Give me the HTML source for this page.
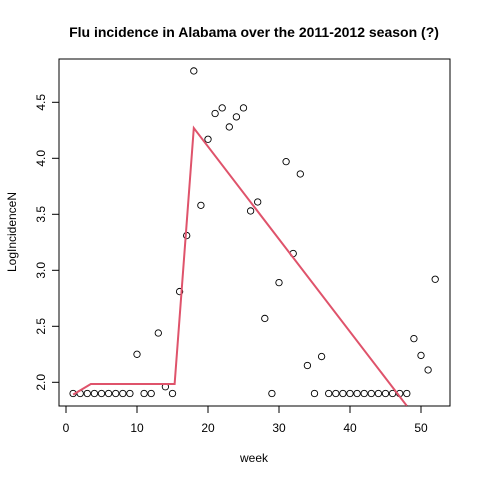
<!DOCTYPE html>
<html><head><meta charset="utf-8"><style>
body{margin:0;background:#fff}
text{font-family:"Liberation Sans",Arial,sans-serif}
</style></head><body>
<svg id="chart" width="480" height="480" viewBox="0 0 480 480" xmlns="http://www.w3.org/2000/svg">
<defs><clipPath id="clip"><rect x="59" y="59" width="391" height="347"/></clipPath></defs>
<text x="254" y="37" text-anchor="middle" font-size="14" font-weight="bold">Flu incidence in Alabama over the 2011-2012 season (?)</text>
<rect x="59" y="59" width="391" height="347" fill="none" stroke="#000" stroke-width="1"/>
<text x="254" y="462" text-anchor="middle" font-size="12">week</text>
<text transform="translate(16,232) rotate(-90)" text-anchor="middle" font-size="12">LogIncidenceN</text>
<g id="axes"></g>
<g id="marks" clip-path="url(#clip)"></g>
</svg>
<script>
const xTicks=[0,10,20,30,40,50];
const yTicks=[2.0,2.5,3.0,3.5,4.0,4.5];
const weeks=[1,2,3,4,5,6,7,8,9,10,11,12,13,14,15,16,17,18,19,20,21,22,23,24,25,26,27,28,29,30,31,32,33,34,35,36,37,38,39,40,41,42,43,44,45,46,47,48,49,50,51,52];
const logIncidence=[1.9,1.9,1.9,1.9,1.9,1.9,1.9,1.9,1.9,2.25,1.9,1.9,2.44,1.96,1.9,2.81,3.31,4.78,3.58,4.17,4.40,4.45,4.28,4.37,4.45,3.53,3.61,2.57,1.9,2.89,3.97,3.15,3.86,2.15,1.9,2.23,1.9,1.9,1.9,1.9,1.9,1.9,1.9,1.9,1.9,1.9,1.9,1.9,2.39,2.24,2.11,2.92];
const fitWeeks=[1,3.5,15.3,18,48];
const fitValues=[1.89,1.985,1.985,4.27,1.79];
const NS='http://www.w3.org/2000/svg';
function sx(v){return 66+(v-0)*7.1;}
function sy(v){return 382.3-(v-2)*112;}
const axes=document.getElementById('axes'),marks=document.getElementById('marks');
function mk(tag,attrs,parent){const e=document.createElementNS(NS,tag);for(const k in attrs)e.setAttribute(k,attrs[k]);parent.appendChild(e);return e;}
mk('line',{x1:sx(xTicks[0]),x2:sx(xTicks[xTicks.length-1]),y1:406,y2:406,stroke:'#000'},axes);
xTicks.forEach(t=>{
 const l=mk('line',{x1:sx(t),x2:sx(t),y1:406,y2:413,stroke:'#000'},axes);
 
 
 const tx=mk('text',{x:sx(t),y:432,'text-anchor':'middle','font-size':12},axes);
 tx.textContent=t;
 
 
});
yTicks.forEach(t=>{
 const l=mk('line',{x1:52,x2:59,y1:sy(t),y2:sy(t),stroke:'#000'},axes);
 
 
 const tx=mk('text',{transform:`translate(45,${sy(t)}) rotate(-90)`,'text-anchor':'middle','font-size':12},axes);
 tx.textContent=t.toFixed(1);
 
 
});
mk('line',{x1:59,x2:59,y1:sy(yTicks[0]),y2:sy(yTicks[yTicks.length-1]),stroke:'#000'},axes);
weeks.forEach((w,i)=>{
 const c=mk('circle',{cx:sx(w),cy:sy(logIncidence[i]),r:3.2,fill:'none',stroke:'#000','stroke-width':0.9},marks);
 
 
});
const p=mk('polyline',{points:fitWeeks.map((w,i)=>sx(w)+','+sy(fitValues[i])).join(' '),fill:'none',stroke:'#DF536B','stroke-width':2},marks);


</script>
</body></html>
